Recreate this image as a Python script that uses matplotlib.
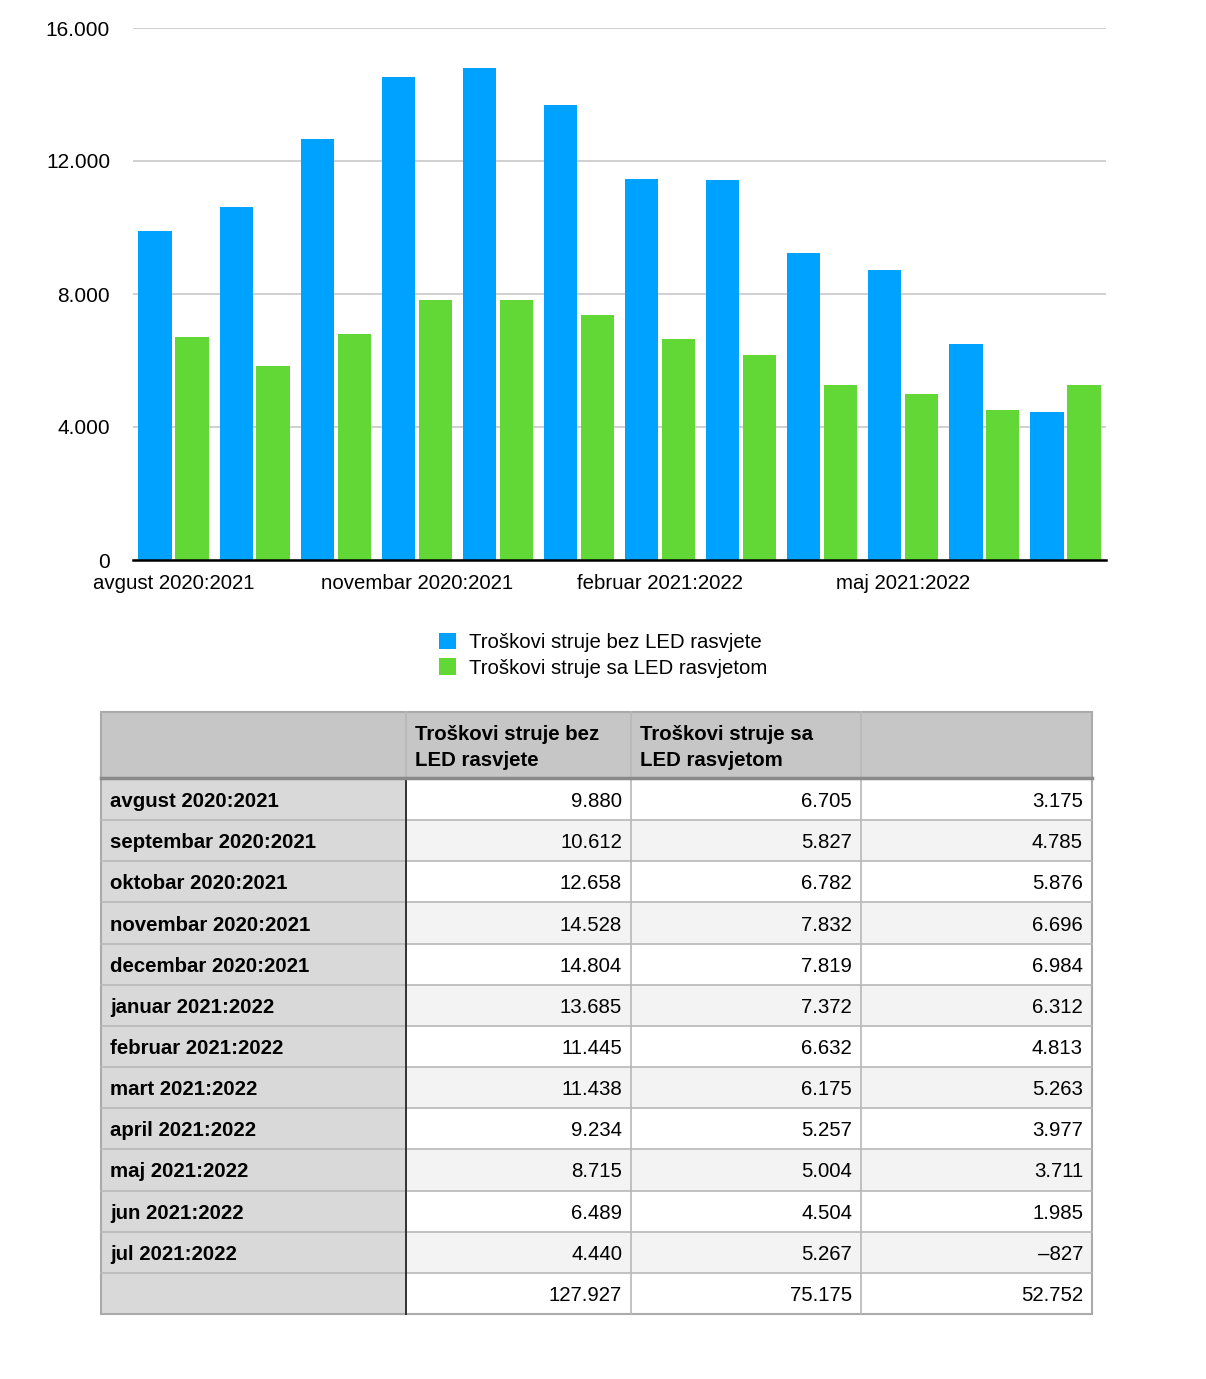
import matplotlib
matplotlib.use("Agg")
import matplotlib.pyplot as plt
from matplotlib.patches import Rectangle

plt.rcParams['font.family'] = ['Liberation Sans', 'DejaVu Sans']

months = ["avgust 2020:2021", "septembar 2020:2021", "oktobar 2020:2021",
          "novembar 2020:2021", "decembar 2020:2021", "januar 2021:2022",
          "februar 2021:2022", "mart 2021:2022", "april 2021:2022",
          "maj 2021:2022", "jun 2021:2022", "jul 2021:2022"]
bez_led = [9880, 10612, 12658, 14528, 14804, 13685, 11445, 11438, 9234, 8715, 6489, 4440]
sa_led = [6705, 5827, 6782, 7832, 7819, 7372, 6632, 6175, 5257, 5004, 4504, 5267]
razlika = [3175, 4785, 5876, 6696, 6984, 6312, 4813, 5263, 3977, 3711, 1985, -827]
totals = [127927, 75175, 52752]
series_names = ["Troškovi struje bez LED rasvjete", "Troškovi struje sa LED rasvjetom"]
header_names = ["Troškovi struje bez\nLED rasvjete", "Troškovi struje sa\nLED rasvjetom", ""]
yticks = [0, 4000, 8000, 12000, 16000]

BLUE = "#00A2FF"
GREEN = "#61D836"

def fmt(v):
    s = f"{abs(v):,}".replace(",", ".")
    return ("\u2013" + s) if v < 0 else s

W, H = 1206, 1379
fig = plt.figure(figsize=(W / 100, H / 100), dpi=100)

# ---- chart ----
ax = fig.add_axes([133 / W, (H - 560) / H, 973 / W, 532 / H])
x = list(range(len(months)))
off, bw = 0.228, 0.41
b1 = ax.bar([i - off for i in x], bez_led, width=bw, color=BLUE, zorder=2)
b2 = ax.bar([i + off for i in x], sa_led, width=bw, color=GREEN, zorder=2)
ax.set_xlim(-0.5, len(months) - 0.5)
ax.set_ylim(0, 16000)
ax.set_yticks(yticks)
ax.set_yticklabels([fmt(v) for v in yticks], fontsize=15)
ax.yaxis.grid(True, color="#c8c8c8", linewidth=1.2, zorder=0)
ax.set_axisbelow(True)
for s in ["top", "right", "left"]:
    ax.spines[s].set_visible(False)
ax.spines["bottom"].set_color("black")
ax.spines["bottom"].set_linewidth(1.8)
ax.spines["bottom"].set_zorder(3)
ax.tick_params(axis="y", length=0, pad=16.5)
ax.tick_params(axis="x", length=0, pad=10)
for lbl in ax.get_yticklabels():
    lbl.set_verticalalignment("center_baseline")
ax.set_xticks(x[::3])
ax.set_xticklabels(months[::3], fontsize=14.7)

fig.legend([b1, b2], series_names, loc="upper left",
           bbox_to_anchor=(439 / W, 1 - 633 / H), frameon=False, fontsize=14.7,
           handlelength=0.85, handleheight=0.85, handletextpad=0.6,
           labelspacing=0.3, borderpad=0, borderaxespad=0)

# ---- table ----
tax = fig.add_axes([0, 0, 1, 1])
tax.set_xlim(0, W)
tax.set_ylim(H, 0)
tax.axis("off")

cols = [101, 406, 631, 861, 1092]
hdr_top, hdr_bot = 712, 778
row_h = (1314 - 779) / 13
fs = 14.7

# header
tax.add_patch(Rectangle((cols[0], hdr_top), cols[-1] - cols[0], hdr_bot - hdr_top,
                        facecolor="#c6c6c6", edgecolor="none"))
for j, name in enumerate(header_names):
    tax.text(cols[j + 1] + 9, hdr_top + 13, name, fontsize=fs, fontweight="bold",
             ha="left", va="top", linespacing=1.45)

rows = [(m, [a, b, c]) for m, a, b, c in zip(months, bez_led, sa_led, razlika)]
rows.append(("", totals))
for i, (name, vals) in enumerate(rows):
    y0 = 779 + i * row_h
    tax.add_patch(Rectangle((cols[0], y0), cols[1] - cols[0], row_h,
                            facecolor="#d9d9d9", edgecolor="none"))
    bg = "white" if i % 2 == 0 else "#f3f3f3"
    tax.add_patch(Rectangle((cols[1], y0), cols[-1] - cols[1], row_h,
                            facecolor=bg, edgecolor="none"))
    tax.text(cols[0] + 9, y0 + row_h / 2 + 2, name, fontsize=fs, fontweight="bold",
             ha="left", va="center")
    for j, v in enumerate(vals):
        tax.text(cols[j + 2] - 9, y0 + row_h / 2 + 2, fmt(v), fontsize=fs,
                 ha="right", va="center")
    if i > 0:
        tax.plot([cols[0], cols[-1]], [y0, y0], color="#b8b8b8", lw=1.2)

# grid lines
for c in cols[2:-1]:
    tax.plot([c, c], [hdr_top, 1314], color="#b8b8b8", lw=1.2)
tax.plot([cols[1], cols[1]], [hdr_top, hdr_bot], color="#b8b8b8", lw=1.2)
tax.plot([cols[1], cols[1]], [hdr_bot, 1314], color="#333333", lw=1.4)
tax.plot([cols[0], cols[-1]], [hdr_bot, hdr_bot], color="#8a8a8a", lw=2.5)
tax.add_patch(Rectangle((cols[0], hdr_top), cols[-1] - cols[0], 1314 - hdr_top,
                        facecolor="none", edgecolor="#aaaaaa", lw=1.5))

fig.savefig("out.png", dpi=100)
